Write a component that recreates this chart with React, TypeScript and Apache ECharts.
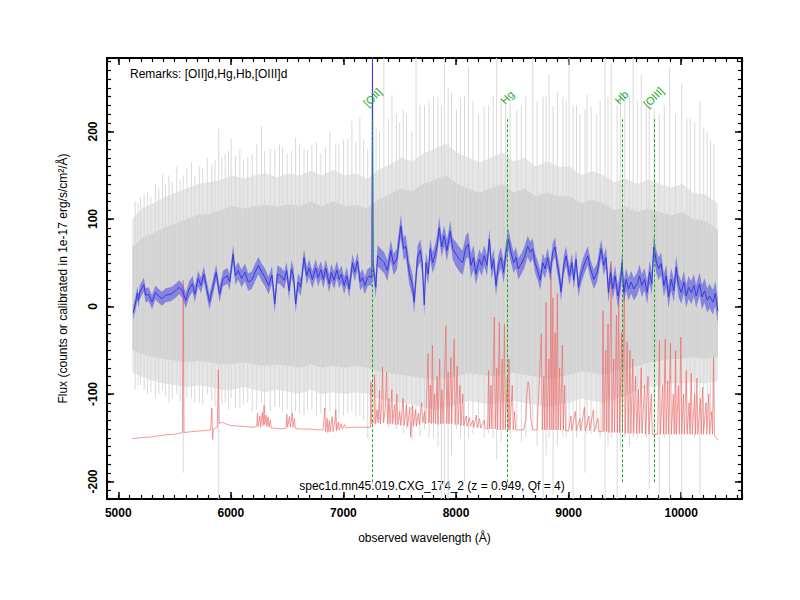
import React, { useEffect, useRef } from "react";
import * as echarts from "echarts";

const FONT = "'Liberation Sans', Arial, Helvetica, sans-serif";

const X_MIN = 4900;
const X_MAX = 10540;
const Y_MIN = -220;
const Y_MAX = 284;

// Object spectrum (smoothed): [observed wavelength (Å), flux, 1-sigma]
const objSpec: [number, number, number][] = [
  [5133,-7,8],[5154,4,8],[5169,15,8],[5180,7,8],[5190,16,8],[5228,25,8],[5242,13,8],[5270,14,8],[5300,5,8],[5330,16,8],
  [5360,12,8],[5390,9,8],[5420,13,8],[5465,14,8],[5510,18,8],[5540,22,8],[5570,18,8],[5600,7,9],[5630,20,9],[5660,26,9],
  [5680,14,9],[5710,32,9],[5735,24,9],[5760,37,9],[5790,18,9],[5810,5,9],[5840,22,9],[5870,39,9],[5900,14,9],[5930,32,9],
  [5970,35,9],[5990,28,9],[6020,60,10],[6040,35,10],[6065,41,10],[6095,32,10],[6125,39,10],[6155,28,10],[6185,30,10],[6215,39,10],
  [6245,47,10],[6275,39,10],[6305,33,10],[6335,24,10],[6365,36,10],[6390,3,10],[6413,37,10],[6443,35,10],[6473,30,10],[6496,41,10],
  [6517,18,10],[6538,43,10],[6556,35,10],[6576,3,10],[6597,28,10],[6621,22,10],[6650,56,10],[6674,35,10],[6695,44,10],[6724,31,10],
  [6754,44,10],[6775,33,10],[6799,42,10],[6822,31,10],[6843,44,10],[6873,26,10],[6893,39,10],[6917,30,10],[6941,42,10],[6962,31,10],
  [6982,37,10],[7006,24,10],[7030,35,10],[7051,20,10],[7080,50,10],[7101,39,10],[7125,52,10],[7148,28,10],[7169,33,10],[7190,24,10],
  [7214,33,10],[7237,35,10],[7252,32,10],[7258,295,4],[7264,45,10],[7288,22,12],[7303,58,12],[7332,54,12],[7362,50,12],[7391,41,12],
  [7421,64,12],[7445,48,12],[7474,54,12],[7510,92,13],[7534,66,13],[7554,69,13],[7584,39,13],[7614,24,13],[7628,5,13],[7658,56,13],
  [7682,64,13],[7700,50,13],[7718,2,13],[7732,50,12],[7753,37,12],[7771,66,12],[7792,50,12],[7812,58,12],[7830,68,12],[7851,90,12],
  [7872,68,12],[7895,81,12],[7919,64,12],[7949,86,12],[7970,66,12],[7999,60,14],[8029,54,14],[8059,50,14],[8088,68,14],[8109,71,14],
  [8133,47,14],[8156,56,14],[8177,37,12],[8207,54,12],[8227,47,12],[8251,58,12],[8275,47,12],[8296,77,12],[8316,43,12],[8334,54,12],
  [8355,24,12],[8376,47,12],[8399,56,12],[8423,39,12],[8444,62,12],[8465,77,12],[8488,62,12],[8512,50,12],[8533,56,12],[8553,43,12],
  [8577,48,12],[8607,56,12],[8636,69,12],[8660,62,12],[8681,66,12],[8702,50,11],[8725,41,11],[8749,30,11],[8770,50,11],[8791,43,11],
  [8814,56,11],[8838,39,11],[8859,62,11],[8880,68,11],[8897,50,11],[8918,35,11],[8933,17,11],[8957,47,11],[8977,58,11],[9007,35,11],
  [9030,50,11],[9046,30,11],[9066,54,11],[9087,22,11],[9111,37,11],[9141,49,11],[9170,58,11],[9194,43,11],[9224,31,11],[9253,39,11],
  [9289,66,11],[9312,47,11],[9333,56,12],[9354,16,12],[9372,39,12],[9392,20,12],[9413,35,12],[9437,12,13],[9461,28,13],[9475,50,13],
  [9490,16,13],[9511,31,13],[9532,20,13],[9556,28,13],[9579,20,13],[9609,26,13],[9630,35,13],[9650,24,13],[9674,31,13],[9698,16,13],
  [9719,39,13],[9739,26,13],[9757,68,13],[9778,52,13],[9799,43,13],[9822,49,13],[9846,24,13],[9867,35,13],[9887,11,13],[9911,31,13],
  [9935,18,13],[9956,45,13],[9976,24,13],[10000,16,13],[10024,28,13],[10045,12,13],[10065,22,13],[10089,16,13],[10113,24,13],[10133,12,13],
  [10163,26,13],[10184,11,14],[10208,18,14],[10231,7,14],[10252,12,14],[10282,5,14],[10302,15,14],[10326,-5,14],
];

// Sky spectrum (offset, red): [wavelength, flux]
const skySpec: [number, number][] = [
  [5125,-151],[5200,-150],[5300,-149],[5400,-147],[5500,-146],[5570,-144],[5577,30],[5584,-144],[5650,-143],[5750,-142],
  [5820,-141],[5832,-116],[5838,-152],[5845,-140],[5880,-138],[5889,-72],[5896,-134],[5920,-132],[5950,-134],[6000,-136],
  [6100,-137],[6200,-138],[6230,-137],[6236,-122],[6242,-137],[6258,-125],[6265,-138],[6280,-121],[6287,-136],[6295,-113],
  [6302,-135],[6312,-124],[6320,-137],[6330,-126],[6338,-138],[6350,-130],[6360,-139],[6400,-139],[6450,-140],[6490,-139],
  [6497,-123],[6504,-138],[6520,-126],[6528,-138],[6545,-122],[6552,-138],[6565,-128],[6572,-139],[6600,-140],[6700,-140],
  [6780,-141],[6820,-141],[6834,-116],[6842,-143],[6855,-128],[6862,-144],[6875,-130],[6882,-143],[6900,-126],[6908,-143],
  [6925,-130],[6932,-118],[6940,-142],[6955,-132],[6962,-141],[6980,-134],[6990,-140],[7010,-135],[7020,-139],[7050,-138],
  [7100,-138],[7200,-138],[7240,-138],[7244,-86],[7250,-134],[7270,-133],[7276,-78],[7283,-134],[7300,-118],[7308,-133],
  [7320,-96],[7328,-134],[7340,-110],[7347,-69],[7355,-133],[7370,-120],[7383,-75],[7392,-134],[7405,-105],[7414,-134],
  [7430,-95],[7438,-134],[7455,-112],[7462,-135],[7475,-100],[7484,-135],[7500,-120],[7510,-136],[7530,-105],[7540,-136],
  [7560,-112],[7570,-137],[7590,-115],[7597,-149],[7605,-137],[7614,-113],[7622,-137],[7640,-118],[7648,-137],[7665,-122],
  [7675,-135],[7695,-110],[7705,-133],[7720,-120],[7730,-134],[7752,-54],[7760,-133],[7772,-90],[7780,-134],[7790,-44],
  [7798,-133],[7810,-100],[7818,-134],[7832,-80],[7840,-135],[7855,-60],[7864,-134],[7875,-95],[7885,-134],[7910,-22],
  [7918,-134],[7930,-75],[7938,-134],[7955,-58],[7962,-134],[7984,-37],[7992,-135],[8010,-68],[8018,-135],[8035,-90],
  [8044,-136],[8060,-100],[8068,-136],[8090,-125],[8098,-137],[8120,-127],[8128,-137],[8150,-130],[8158,-138],[8180,-124],
  [8188,-138],[8210,-128],[8218,-139],[8250,-130],[8258,-139],[8280,-140],[8290,-73],[8298,-140],[8310,-90],[8318,-140],
  [8340,-12],[8348,-140],[8362,-70],[8370,-141],[8385,-18],[8393,-141],[8410,-60],[8418,-141],[8430,-20],[8438,-141],
  [8455,-80],[8463,-141],[8470,-60],[8478,-141],[8500,-90],[8508,-141],[8520,-120],[8530,-141],[8600,-141],[8620,-130],
  [8630,-100],[8640,-86],[8650,-92],[8665,-130],[8680,-141],[8720,-141],[8758,-31],[8766,-141],[8780,-80],[8788,-141],
  [8800,5],[8808,-141],[8825,-60],[8833,-141],[8843,40],[8851,-141],[8860,10],[8868,-141],[8880,-30],[8888,-141],
  [8900,15],[8908,-141],[8920,-70],[8928,-141],[8945,-44],[8953,-141],[8965,-90],[8973,-142],[9000,-142],[9020,-125],
  [9028,-142],[9060,-120],[9068,-142],[9100,-128],[9108,-142],[9140,-115],[9148,-142],[9180,-125],[9188,-142],[9220,-118],
  [9228,-143],[9260,-128],[9268,-143],[9298,-143],[9306,-5],[9314,-143],[9330,-50],[9338,-143],[9350,-20],[9358,-144],
  [9378,52],[9386,-144],[9400,-60],[9408,-144],[9425,-10],[9433,-144],[9445,15],[9453,-144],[9470,-30],[9478,-144],
  [9495,27],[9503,-145],[9520,-40],[9528,-145],[9545,-50],[9553,-145],[9570,-60],[9578,-145],[9595,-80],[9603,-145],
  [9620,-95],[9628,-145],[9645,-70],[9653,-145],[9675,-90],[9683,-146],[9705,-80],[9713,-146],[9735,-100],[9743,-146],
  [9790,-146],[9807,-39],[9815,-146],[9835,-90],[9843,-146],[9858,-37],[9866,-146],[9880,-85],[9888,-146],[9905,-42],
  [9913,-146],[9930,-100],[9938,-146],[9950,-50],[9958,-146],[9975,-90],[9983,-146],[9997,-35],[10005,-146],[10020,-100],
  [10028,-146],[10045,-73],[10053,-146],[10070,-110],[10078,-146],[10090,-76],[10098,-146],[10120,-100],[10128,-146],[10140,-82],
  [10148,-146],[10170,-105],[10178,-146],[10190,-92],[10198,-146],[10220,-110],[10228,-146],[10245,-100],[10253,-146],[10270,-120],
  [10278,-146],[10287,-58],[10295,-147],[10310,-150],[10330,-153],
];

// Raw (unsmoothed) spectrum envelope, gray
const rawWave = [
  5125,5210,5310,5410,5510,5610,5710,5810,5910,6010,6110,6210,6310,6410,6510,6610,6710,6810,6910,7010,
  7110,7210,7310,7410,7510,7610,7710,7810,7910,8010,8110,8210,8310,8410,8510,8610,8710,8810,8910,9010,
  9110,9210,9310,9410,9510,9610,9710,9810,9910,10010,10110,10210,10325,
];
const rawOuterHi = [
  100,112,118,125,130,135,140,142,145,150,146,150,152,148,152,150,155,150,156,150,
  152,146,156,162,170,166,175,180,186,176,170,165,170,176,166,170,160,166,160,160,
  150,155,150,142,146,140,145,140,136,140,130,128,118,
];
const rawOuterLo = [
  -76,-80,-85,-88,-90,-92,-90,-92,-95,-95,-92,-95,-98,-95,-97,-100,-95,-100,-98,-100,
  -98,-100,-105,-108,-110,-112,-115,-118,-115,-112,-108,-110,-112,-110,-108,-110,-112,-115,-112,-110,
  -105,-108,-110,-106,-102,-96,-92,-90,-88,-88,-86,-88,-85,
];
const rawInnerHi = [
  68,78,84,90,95,100,105,106,110,115,112,115,116,114,117,115,120,115,120,115,
  116,112,122,128,135,132,140,145,150,140,135,130,135,140,130,135,126,130,126,126,
  118,122,118,110,114,108,112,108,104,108,100,98,88,
];
const rawInnerLo = [
  -50,-54,-58,-60,-62,-64,-62,-64,-66,-66,-64,-66,-68,-66,-68,-70,-66,-70,-68,-70,
  -68,-70,-74,-76,-78,-80,-82,-84,-82,-80,-76,-78,-80,-78,-76,-78,-80,-82,-80,-78,
  -74,-76,-78,-74,-72,-68,-64,-62,-60,-60,-58,-60,-58,
];
// Individual raw spikes: [wavelength, low, high]
const rawSpikes: [number, number, number][] = [
  [5150,-95,120],[5198,-90,124],[5260,-100,130],[5330,-105,140],[5394,-95,151],[5450,-110,150],[5520,-100,160],[5577,-190,150],
  [5650,-105,165],[5720,-110,160],[5790,-100,170],[5892,-221,203],[5950,-110,175],[6003,-105,192],[6080,-115,180],[6150,-110,170],
  [6272,-110,206],[6350,-120,180],[6432,-115,185],[6500,-118,175],[6575,-120,193],[6650,-125,180],[6720,-118,185],[6800,-122,175],
  [6879,-120,200],[6932,-141,185],[7000,-125,190],[7075,-120,212],[7146,-125,216],[7216,-150,180],[7320,-130,200],[7359,-130,285],
  [7431,-135,242],[7500,-130,210],[7560,-140,220],[7608,-152,200],[7645,-135,285],[7720,-140,230],[7800,-150,240],[7870,-221,230],
  [7897,-221,285],[7930,-221,250],[8004,-140,225],[8075,-200,240],[8111,-150,273],[8200,-140,220],[8290,-145,230],[8361,-175,285],
  [8440,-140,230],[8540,-140,225],[8620,-150,240],[8682,-140,285],[8773,-221,240],[8826,-150,266],[8862,-215,230],[8950,-150,240],
  [9004,-140,285],[9040,-221,230],[9100,-140,220],[9146,-190,225],[9164,-145,242],[9250,-140,220],[9324,-221,285],[9378,-150,277],
  [9431,-221,230],[9500,-150,240],[9573,-150,285],[9645,-145,265],[9716,-208,230],[9805,-221,220],[9898,-221,273],[10005,-218,255],
  [10080,-140,215],[10166,-215,235],[10230,-130,200],[10291,-120,186],
  [5175,-90,118],[5230,-95,128],[5290,-98,125],[5360,-100,135],[5420,-102,140],[5480,-105,142],[5550,-108,145],[5610,-104,158],
  [5680,-110,150],[5750,-112,158],[5830,-108,162],[5860,-115,168],[5920,-112,170],[5980,-118,178],[6040,-116,172],[6110,-112,168],
  [6190,-120,175],[6230,-118,185],[6300,-122,178],[6390,-115,180],[6460,-120,182],[6540,-125,178],[6610,-122,186],[6680,-118,178],
  [6760,-125,188],[6840,-120,182],[6960,-128,185],[7040,-122,192],[7110,-126,188],[7180,-130,190],[7290,-135,205],[7400,-138,215],
  [7470,-140,220],[7530,-145,225],[7680,-148,230],[7760,-150,235],[7840,-160,240],[7960,-170,245],[8040,-150,238],[8150,-145,235],
  [8250,-150,228],[8330,-150,240],[8400,-155,238],[8480,-150,235],[8580,-155,230],[8720,-160,235],[8800,-170,240],[8900,-160,245],
  [8980,-150,235],[9070,-150,230],[9200,-145,228],[9280,-150,235],[9350,-160,240],[9460,-165,245],[9540,-160,240],[9610,-150,235],
  [9690,-150,230],[9760,-160,225],[9850,-150,230],[9950,-145,220],[10050,-140,215],[10120,-150,210],[10200,-140,205],[10260,-125,190],
];

// Identified emission lines (observed wavelength)
const lineNames = ["[OII]", "Hg", "Hb", "[OIII]"];
const lineWave = [7258, 8456, 9470, 9754];
const LINE_TOP = 214;
const LINE_BOTTOM = -202;
const LABEL_AT = 239;

const remarkText = "Remarks: [OII]d,Hg,Hb,[OIII]d";
const specText = "spec1d.mn45.019.CXG_174_2 (z = 0.949, Qf = 4)";

function bandSeries(name: string, wave: number[], lo: number[], hi: number[], color: string, z: number) {
  const rows = wave.map((w, i) => [w, lo[i], hi[i]]);
  return {
    type: "custom",
    name,
    silent: true,
    clip: true,
    z,
    xAxisIndex: 0,
    yAxisIndex: 0,
    data: rows,
    encode: { x: 0, y: [1, 2] },
    renderItem: (params: any, api: any) => {
      if (params.dataIndex !== 0) return null;
      const top = rows.map((r) => api.coord([r[0], r[2]]));
      const bot = rows.map((r) => api.coord([r[0], r[1]])).reverse();
      return { type: "polygon", shape: { points: top.concat(bot) }, style: { fill: color } };
    },
  };
}

function xAxisDef(position: string, minor: boolean) {
  return {
    type: "value",
    position,
    min: X_MIN,
    max: X_MAX,
    ...(minor ? { interval: 100 } : {}),
    axisLine: { show: !minor, onZero: false, lineStyle: { color: "#000", width: 2 } },
    axisTick: { show: true, inside: true, length: minor ? 4 : 7, lineStyle: { color: "#000", width: minor ? 1.2 : 1.5 } },
    axisLabel: {
      show: !minor && position === "bottom",
      color: "#000",
      fontFamily: FONT,
      fontWeight: "bold",
      fontSize: 12,
      margin: 8,
      showMinLabel: false,
      showMaxLabel: false,
      formatter: (v: number) => String(v),
    },
    splitLine: { show: false },
    minorTick: { show: false },
    ...(!minor && position === "bottom"
      ? {
          name: "observed wavelength (\u00C5)",
          nameLocation: "middle",
          nameGap: 33,
          nameTextStyle: { color: "#000", fontFamily: FONT, fontSize: 12 },
        }
      : {}),
  };
}

function yAxisDef(position: string, minor: boolean) {
  return {
    type: "value",
    position,
    min: Y_MIN,
    max: Y_MAX,
    ...(minor ? { interval: 10 } : {}),
    axisLine: { show: !minor, onZero: false, lineStyle: { color: "#000", width: 2 } },
    axisTick: { show: true, inside: true, length: minor ? 4 : 7, lineStyle: { color: "#000", width: minor ? 1.2 : 1.5 } },
    axisLabel: {
      show: !minor && position === "left",
      color: "#000",
      fontFamily: FONT,
      fontWeight: "bold",
      fontSize: 12,
      margin: 8,
      rotate: 90,
      showMinLabel: false,
      showMaxLabel: false,
      formatter: (v: number) => String(v),
    },
    splitLine: { show: false },
    minorTick: { show: false },
    ...(!minor && position === "left"
      ? {
          name: "Flux (counts or calibrated in 1e-17 erg/s/cm\u00B2/\u00C5)",
          nameLocation: "middle",
          nameGap: 38,
          nameTextStyle: { color: "#000", fontFamily: FONT, fontSize: 12 },
        }
      : {}),
  };
}

export default function App() {
  const ref = useRef<HTMLDivElement>(null);

  useEffect(() => {
    if (!ref.current) return;
    const chart = echarts.init(ref.current, null, { renderer: "svg" });

    const option: any = {
      animation: false,
      backgroundColor: "#fff",
      grid: { left: 107, right: 58, top: 58, bottom: 101, containLabel: false, outerBoundsMode: "none" },
      xAxis: [xAxisDef("bottom", false), xAxisDef("bottom", true), xAxisDef("top", false), xAxisDef("top", true)],
      yAxis: [yAxisDef("left", false), yAxisDef("left", true), yAxisDef("right", false), yAxisDef("right", true)],
      graphic: [
        {
          type: "text",
          x: 130,
          y: 74,
          style: { text: remarkText, fill: "#000", fontFamily: FONT, fontSize: 12, verticalAlign: "middle" },
        },
        {
          type: "text",
          x: 432,
          y: 486,
          style: { text: specText, fill: "#000", fontFamily: FONT, fontSize: 12, align: "center", verticalAlign: "middle" },
        },
      ],
      series: [
        bandSeries("rawOuter", rawWave, rawOuterLo, rawOuterHi, "#e6e6e6", 1),
        bandSeries("rawInner", rawWave, rawInnerLo, rawInnerHi, "#d3d3d3", 2),
        {
          type: "custom",
          name: "rawSpikes",
          silent: true,
          clip: true,
          z: 3,
          xAxisIndex: 0,
          yAxisIndex: 0,
          data: rawSpikes,
          encode: { x: 0, y: [1, 2] },
          renderItem: (params: any, api: any) => {
            const r = rawSpikes[params.dataIndex];
            const a = api.coord([r[0], r[1]]);
            const b = api.coord([r[0], r[2]]);
            return {
              type: "line",
              shape: { x1: a[0], y1: a[1], x2: b[0], y2: b[1] },
              style: { stroke: "#d9d9d9", lineWidth: 1 },
            };
          },
        },
        {
          type: "line",
          name: "sky",
          silent: true,
          z: 4,
          showSymbol: false,
          symbol: "none",
          data: skySpec,
          lineStyle: { color: "#f06a6a", width: 0.8, opacity: 0.85 },
        },
        bandSeries(
          "objBand",
          objSpec.map((r) => r[0]),
          objSpec.map((r) => r[1] - r[2]),
          objSpec.map((r) => r[1] + r[2]),
          "rgba(70,70,225,0.55)",
          5
        ),
        {
          type: "line",
          name: "obj",
          silent: true,
          z: 6,
          showSymbol: false,
          symbol: "none",
          data: objSpec.map((r) => [r[0], r[1]]),
          lineStyle: { color: "#3a3ae0", width: 1 },
        },
        {
          type: "custom",
          name: "lines",
          silent: true,
          z: 7,
          xAxisIndex: 0,
          yAxisIndex: 0,
          data: lineWave.map((w) => [w, LINE_BOTTOM, LINE_TOP]),
          encode: { x: 0, y: [1, 2] },
          renderItem: (params: any, api: any) => {
            const i = params.dataIndex;
            const w = lineWave[i];
            const p1 = api.coord([w, LINE_TOP]);
            const p2 = api.coord([w, LINE_BOTTOM]);
            const pl = api.coord([w, LABEL_AT]);
            const lx = Math.round(p1[0]) + 0.5;
            return {
              type: "group",
              children: [
                {
                  type: "line",
                  shape: { x1: lx, y1: p1[1], x2: lx, y2: p2[1] },
                  style: { stroke: "#1ea81e", lineWidth: 1, lineDash: [3, 2] },
                },
                {
                  type: "text",
                  x: pl[0],
                  y: pl[1],
                  rotation: Math.PI / 4,
                  originX: 0,
                  originY: 0,
                  style: {
                    text: lineNames[i],
                    fill: "#1ea81e",
                    fontFamily: FONT,
                    fontSize: 11,
                    align: "center",
                    verticalAlign: "middle",
                  },
                },
              ],
            };
          },
        },
      ],
    };

    chart.setOption(option);
    return () => chart.dispose();
  }, []);

  return (
    <div
      ref={ref}
      style={{ position: "absolute", left: 0, top: 0, width: 800, height: 600, background: "#fff" }}
    />
  );
}
